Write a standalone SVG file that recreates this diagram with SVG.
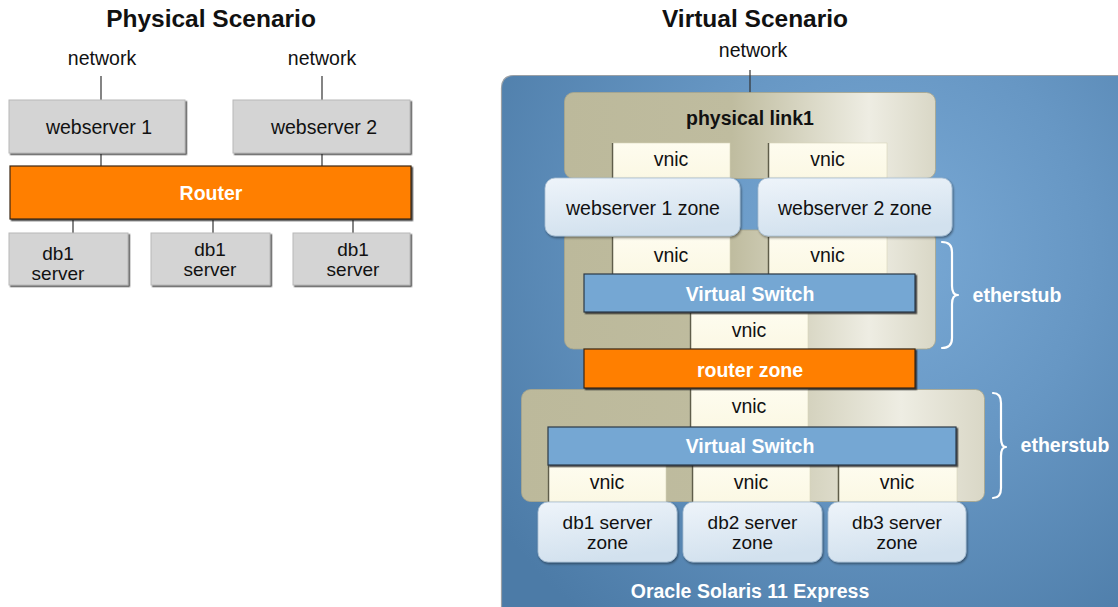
<svg xmlns="http://www.w3.org/2000/svg" width="1118" height="607" viewBox="0 0 1118 607">
  <defs>
    <radialGradient id="bgBlue" gradientUnits="userSpaceOnUse" cx="880" cy="250" r="470">
      <stop offset="0" stop-color="#7aaad6"/>
      <stop offset="0.45" stop-color="#6797c4"/>
      <stop offset="1" stop-color="#4c7ba7"/>
    </radialGradient>
    <linearGradient id="tan" x1="0" y1="0" x2="1" y2="0">
      <stop offset="0" stop-color="#bcb99b"/>
      <stop offset="0.45" stop-color="#bfbc9f"/>
      <stop offset="0.82" stop-color="#eeede3"/>
      <stop offset="1" stop-color="#d9d7c6"/>
    </linearGradient>
    <linearGradient id="zone" x1="0" y1="0" x2="0.3" y2="1">
      <stop offset="0" stop-color="#eef4fa"/>
      <stop offset="1" stop-color="#d2e1ee"/>
    </linearGradient>
    <linearGradient id="vnicFill" x1="0" y1="0" x2="0" y2="1">
      <stop offset="0" stop-color="#fefcef"/>
      <stop offset="1" stop-color="#fbf8e4"/>
    </linearGradient>
    <filter id="shadow" x="-10%" y="-10%" width="120%" height="130%">
      <feDropShadow dx="1" dy="1.5" stdDeviation="0.8" flood-color="#000" flood-opacity="0.45"/>
    </filter>
    <filter id="hardShadow" x="-5%" y="-10%" width="110%" height="130%">
      <feDropShadow dx="1.5" dy="1.5" stdDeviation="0.3" flood-color="#222" flood-opacity="0.8"/>
    </filter>
  </defs>
  <style>
    text { font-family: "Liberation Sans", Arial, sans-serif; font-size: 19.5px; fill: #111; text-anchor: middle; }
    .title { font-size: 24.5px; font-weight: bold; }
    .bold { font-weight: bold; }
    .white { fill: #ffffff; font-weight: bold; }
    .two { font-size: 19px; }
    .gray { fill: #d4d4d4; stroke: #b8b8b8; stroke-width: 1; filter: url(#hardShadow); }
    .orange { fill: #ff7f00; stroke: #3a2410; stroke-width: 1.2; filter: url(#hardShadow); }
    .tanbox { fill: url(#tan); stroke: #a9a68a; stroke-width: 0.8; }
    .vnic { fill: url(#vnicFill); stroke: #d8d4b8; stroke-width: 0.6; }
    .vnicEdge { stroke: #5f5d4a; stroke-width: 1.5; }
    .switch { fill: #74a7d3; stroke: #2b3947; stroke-width: 1.2; filter: url(#hardShadow); }
    .zonebox { fill: url(#zone); stroke: #a8bfd3; stroke-width: 0.8; filter: url(#shadow); }
    .wire { stroke: #333; stroke-width: 1.2; fill: none; }
    .brace { stroke: #ffffff; stroke-width: 2.2; fill: none; stroke-linecap: round; stroke-linejoin: round; }
  </style>

  <rect x="0" y="0" width="1118" height="607" fill="#ffffff"/>

  <!-- Physical scenario -->
  <text class="title" x="211" y="27">Physical Scenario</text>

  <g id="connectors">
    <line class="wire" x1="101" y1="76" x2="101" y2="100"/>
    <line class="wire" x1="322" y1="76" x2="322" y2="100"/>
    <line class="wire" x1="101" y1="154" x2="101" y2="166"/>
    <line class="wire" x1="322" y1="154" x2="322" y2="166"/>
    <line class="wire" x1="73" y1="220" x2="73" y2="233"/>
    <line class="wire" x1="213" y1="220" x2="213" y2="233"/>
    <line class="wire" x1="353" y1="220" x2="353" y2="233"/>
  </g>

  <g id="phys-network-1"><text x="102" y="65">network</text></g>
  <g id="phys-network-2"><text x="322" y="65">network</text></g>

  <g id="webserver-1">
    <rect class="gray" x="9" y="100" width="176" height="53"/>
    <text x="99" y="134">webserver 1</text>
  </g>
  <g id="webserver-2">
    <rect class="gray" x="233" y="100" width="177" height="53"/>
    <text x="324" y="134">webserver 2</text>
  </g>
  <g id="router">
    <rect class="orange" x="10" y="166" width="401" height="53"/>
    <text class="white" x="211" y="200">Router</text>
  </g>
  <g id="db1-server-a">
    <rect class="gray" x="9" y="233" width="119" height="52"/>
    <text class="two" x="58" y="260">db1</text>
    <text class="two" x="58" y="280">server</text>
  </g>
  <g id="db1-server-b">
    <rect class="gray" x="151" y="233" width="119" height="52"/>
    <text class="two" x="210" y="256">db1</text>
    <text class="two" x="210" y="276">server</text>
  </g>
  <g id="db1-server-c">
    <rect class="gray" x="293" y="233" width="117" height="52"/>
    <text class="two" x="353" y="256">db1</text>
    <text class="two" x="353" y="276">server</text>
  </g>

  <!-- Virtual scenario -->
  <text class="title" x="755" y="27">Virtual Scenario</text>
  <g id="virt-network"><text x="753" y="57">network</text></g>

  <g id="solaris-host">
    <path d="M501.5,620 V88 Q501.5,75.5 514,75.5 H1130 V620 Z" fill="url(#bgBlue)" stroke="#9aa0a6" stroke-width="1.2"/>
    <text class="white" x="750" y="598">Oracle Solaris 11 Express</text>
  </g>

  <g id="uplink">
    <line class="wire" x1="750" y1="70" x2="750" y2="93"/>
  </g>

  <g id="physical-link1">
    <rect class="tanbox" x="564.5" y="92.5" width="371" height="86" rx="9"/>
    <text class="bold" x="750" y="125">physical link1</text>
    <rect class="vnic" x="612" y="143" width="118" height="35"/>
    <line class="vnicEdge" x1="612.5" y1="143" x2="612.5" y2="178"/>
    <text x="671" y="166">vnic</text>
    <rect class="vnic" x="768" y="143" width="119" height="35"/>
    <line class="vnicEdge" x1="768.5" y1="143" x2="768.5" y2="178"/>
    <text x="827.5" y="166">vnic</text>
  </g>

  <g id="etherstub-1">
    <rect class="tanbox" x="564.5" y="230" width="371" height="119" rx="9"/>
    <rect class="vnic" x="612" y="237" width="118" height="37"/>
    <line class="vnicEdge" x1="612.5" y1="237" x2="612.5" y2="274"/>
    <text x="671" y="262">vnic</text>
    <rect class="vnic" x="768" y="237" width="119" height="37"/>
    <line class="vnicEdge" x1="768.5" y1="237" x2="768.5" y2="274"/>
    <text x="827.5" y="262">vnic</text>
    <rect class="vnic" x="690" y="313" width="118" height="36"/>
    <line class="vnicEdge" x1="690.5" y1="313" x2="690.5" y2="349"/>
    <text x="749" y="337">vnic</text>
    <path class="brace" d="M942,242 Q952,242 952,252 V286 Q952,295 958,295 Q952,295 952,304 V338 Q952,348 942,348"/>
    <text class="white" x="1017" y="302">etherstub</text>
  </g>

  <g id="virtual-switch-1">
    <rect class="switch" x="584" y="274" width="331" height="38"/>
    <text class="white" x="750" y="301">Virtual Switch</text>
  </g>

  <g id="webserver-1-zone">
    <rect class="zonebox" x="545" y="178" width="195" height="58" rx="10"/>
    <text x="643" y="215">webserver 1 zone</text>
  </g>
  <g id="webserver-2-zone">
    <rect class="zonebox" x="758" y="178" width="194" height="58" rx="10"/>
    <text x="855" y="215">webserver 2 zone</text>
  </g>

  <g id="etherstub-2">
    <rect class="tanbox" x="521.5" y="389.5" width="463" height="112" rx="9"/>
    <rect class="vnic" x="690" y="389" width="118" height="38"/>
    <line class="vnicEdge" x1="690.5" y1="389" x2="690.5" y2="427"/>
    <text x="749" y="413">vnic</text>
    <rect class="vnic" x="548" y="465" width="118" height="37"/>
    <line class="vnicEdge" x1="548.5" y1="465" x2="548.5" y2="502"/>
    <text x="607" y="489">vnic</text>
    <rect class="vnic" x="692" y="465" width="118" height="37"/>
    <line class="vnicEdge" x1="692.5" y1="465" x2="692.5" y2="502"/>
    <text x="751" y="489">vnic</text>
    <rect class="vnic" x="838" y="465" width="119" height="37"/>
    <line class="vnicEdge" x1="838.5" y1="465" x2="838.5" y2="502"/>
    <text x="897" y="489">vnic</text>
    <path class="brace" d="M993,393 Q1001,393 1001,403 V438 Q1001,447 1006,447 Q1001,447 1001,456 V488 Q1001,498 993,498"/>
    <text class="white" x="1065" y="452">etherstub</text>
  </g>

  <g id="router-zone">
    <rect class="orange" x="584" y="349" width="331" height="39"/>
    <text class="white" x="750" y="377">router zone</text>
  </g>

  <g id="virtual-switch-2">
    <rect class="switch" x="548" y="427" width="408" height="38"/>
    <text class="white" x="750" y="453">Virtual Switch</text>
  </g>

  <g id="db1-server-zone">
    <rect class="zonebox" x="538" y="502" width="139" height="60" rx="10"/>
    <text class="two" x="607.5" y="529">db1 server</text>
    <text class="two" x="607.5" y="549">zone</text>
  </g>
  <g id="db2-server-zone">
    <rect class="zonebox" x="683" y="502" width="139" height="60" rx="10"/>
    <text class="two" x="752.5" y="529">db2 server</text>
    <text class="two" x="752.5" y="549">zone</text>
  </g>
  <g id="db3-server-zone">
    <rect class="zonebox" x="828" y="502" width="138" height="60" rx="10"/>
    <text class="two" x="897" y="529">db3 server</text>
    <text class="two" x="897" y="549">zone</text>
  </g>
</svg>
